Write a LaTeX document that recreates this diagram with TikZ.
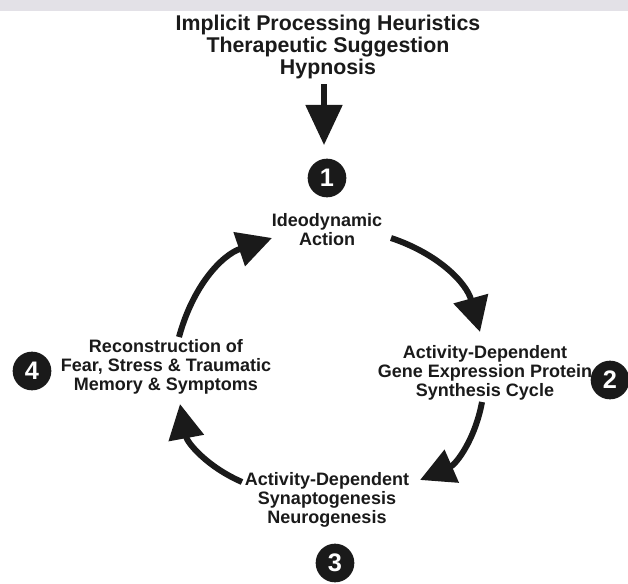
\documentclass[tikz,border=0pt]{standalone}
\usepackage{fontspec}
\setmainfont{Liberation Sans}
\usepackage{tikz}
\usetikzlibrary{arrows.meta}
\definecolor{ink}{HTML}{1A1A1A}
\definecolor{band}{HTML}{E3E1E7}
\tikzset{
  flow/.style={draw=ink, line width=4.5pt, -{Triangle[length=26pt,width=26pt]}},
  feed/.style={draw=ink, line width=3.8pt, -{Triangle[length=30pt,width=27pt]}},
  num/.style={circle, fill=ink, text=white, minimum size=29pt, inner sep=0pt, font=\bfseries\fontsize{19}{19}\selectfont},
  lab/.style={text=ink, align=center, font=\bfseries\fontsize{13.5}{14.3}\selectfont},
  head/.style={text=ink, align=center, font=\bfseries\fontsize{16}{16.8}\selectfont},
}

\begin{document}
\begin{tikzpicture}[x=0.75pt,y=0.75pt]
  \clip (0,0) rectangle (628,583);
  \fill[white] (0,0) rectangle (628,583);
  \fill[band] (0,572) rectangle (628,583);

  % input
  \node[head] (src) at (328,536) {Implicit Processing Heuristics\\Therapeutic Suggestion\\Hypnosis};
  \coordinate (srcEnd) at (324,438);
  \draw[feed] (src.south -| srcEnd) -- (srcEnd);

  % cycle stages
  \node[num] (n1) at (327,405) {1};
  \node[lab] (ideo) at (327,353) {Ideodynamic\\Action};
  \node[lab] (gene) at (485,210) {Activity-Dependent\\Gene Expression Protein\\Synthesis Cycle};
  \node[num] (n2) at (610,203) {2};
  \node[lab] (syn) at (327,83) {Activity-Dependent\\Synaptogenesis\\Neurogenesis};
  \node[num] (n3) at (335,20) {3};
  \node[lab] (rec) at (166,216) {Reconstruction of\\Fear, Stress \& Traumatic\\Memory \& Symptoms};
  \node[num] (n4) at (32,212) {4};

  % arrow ends
  \coordinate (a1) at (391,345);
  \coordinate (a2) at (480,251);
  \coordinate (b1) at (482,181);
  \coordinate (b2) at (420,103);
  \coordinate (c1) at (242,101);
  \coordinate (c2) at (180,179);
  \coordinate (d1) at (179,246);
  \coordinate (d2) at (272,345);

  \draw[flow] (a1) to[bend left=28] (a2);
  \draw[flow] (b1) to[bend left=28] (b2);
  \draw[flow] (c1) to[bend left=28] (c2);
  \draw[flow] (d1) to[bend left=28] (d2);
\end{tikzpicture}
\end{document}
